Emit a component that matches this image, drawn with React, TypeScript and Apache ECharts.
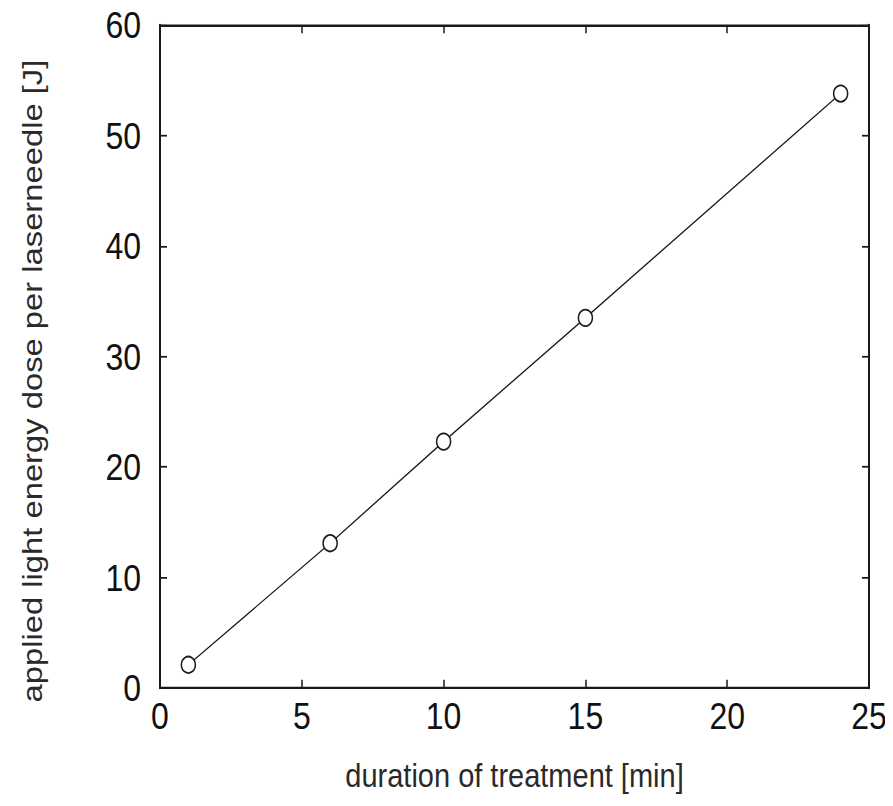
import React, { useEffect, useRef } from "react";
import * as echarts from "echarts";

const durationMin = [1, 6, 10, 15, 24];
const energyJ = [2.1, 13.1, 22.3, 33.5, 53.8];
const xTitle = "duration of treatment [min]";
const yTitle = "applied light energy dose per laserneedle [J]";

const W = 893;
const H_FINAL = 806;
const H = 689;
const SY = H_FINAL / H;

export default function App() {
  const ref = useRef<HTMLDivElement>(null);
  useEffect(() => {
    if (!ref.current) return;
    const chart = echarts.init(ref.current, undefined, { renderer: "svg" });
    const font = "Liberation Sans, Arial, sans-serif";
    const lineStyle = { color: "#1a1a1a", width: 2 };
    const tick = { show: true, inside: true, length: 7, lineStyle: { color: "#1a1a1a", width: 1.5 } };
    chart.setOption({
      animation: false,
      backgroundColor: "#fff",
      grid: { left: 160, right: 24, top: 21.4, bottom: 100.9 },
      xAxis: [
        {
          type: "value",
          min: 0,
          max: 25,
          interval: 5,
          name: xTitle,
          nameLocation: "middle",
          nameGap: 60,
          nameTextStyle: { fontFamily: font, fontSize: 29, color: "#2a2a2a" },
          axisLine: { show: true, onZero: false, lineStyle },
          axisTick: tick,
          axisLabel: { fontFamily: font, fontSize: 32, color: "#111", margin: 8 },
          splitLine: { show: false },
        },
        {
          type: "value",
          position: "top",
          min: 0,
          max: 25,
          interval: 5,
          axisLine: { show: true, onZero: false, lineStyle },
          axisTick: tick,
          axisLabel: { show: false },
          splitLine: { show: false },
        },
      ],
      yAxis: [
        {
          type: "value",
          min: 0,
          max: 60,
          interval: 10,
          name: yTitle,
          nameLocation: "middle",
          nameGap: 114,
          nameTextStyle: { fontFamily: font, fontSize: 28, color: "#2a2a2a", padding: [0, 42, 0, 0] },
          axisLine: { show: true, onZero: false, lineStyle },
          axisTick: tick,
          axisLabel: { fontFamily: font, fontSize: 32, color: "#111", margin: 19 },
          splitLine: { show: false },
        },
        {
          type: "value",
          position: "right",
          min: 0,
          max: 60,
          interval: 10,
          axisLine: { show: true, onZero: false, lineStyle },
          axisTick: tick,
          axisLabel: { show: false },
          splitLine: { show: false },
        },
      ],
      series: [
        {
          type: "line",
          data: durationMin.map((x, i) => [x, energyJ[i]]),
          symbol: "circle",
          symbolSize: 14,
          itemStyle: { color: "#fff", borderColor: "#1a1a1a", borderWidth: 1.5 },
          lineStyle: { color: "#1a1a1a", width: 1.2 },
        },
      ],
    });
    return () => chart.dispose();
  }, []);
  return (
    <div style={{ width: W, height: H_FINAL, margin: -8, overflow: "hidden" }}>
      <div style={{ transform: `scaleY(${SY})`, transformOrigin: "0 0" }}>
        <div ref={ref} style={{ width: W, height: H }} />
      </div>
    </div>
  );
}
